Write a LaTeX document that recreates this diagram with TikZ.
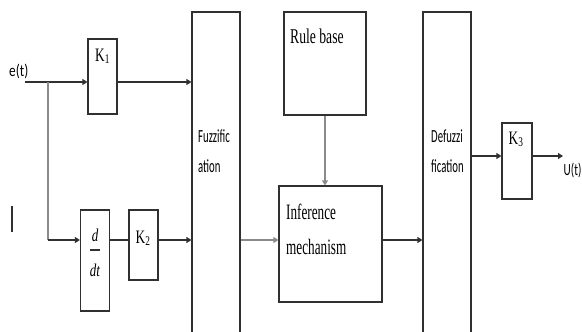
\documentclass[tikz,border=0pt]{standalone}
\usepackage{fontspec}
\setmainfont{Liberation Serif}
\newfontfamily\carfont{Carlito}
\usetikzlibrary{arrows.meta}
\definecolor{ln}{HTML}{303030}
\definecolor{lg}{HTML}{8A8A8A}
\tikzset{
  box/.style={draw=ln, line width=1.2pt, inner sep=0pt, fill=white},
  arr/.style={draw=ln, line width=1.2pt, -{Triangle[length=5pt,width=6pt]}},
  garr/.style={draw=lg, line width=1.2pt, -{Triangle[length=5pt,width=6pt]}},
  plain/.style={draw=ln, line width=1.2pt},
  gplain/.style={draw=lg, line width=1.2pt},
  txt/.style={inner sep=0pt, text=black},
}
\newcommand{\sx}[2]{\scalebox{#1}[1]{#2}}
\begin{document}
\begin{tikzpicture}[x=1pt,y=-1pt]
\useasboundingbox (0,0) rectangle (582,332);
% boxes
\node[box, minimum width=29pt, minimum height=75pt] (K1) at (102.5,76.5) {};
\node[box, minimum width=29pt, minimum height=101pt] (DD) at (95,260.5) {};
\node[box, minimum width=29pt, minimum height=70pt] (K2) at (143.5,245) {};
\node[box, minimum width=48pt, minimum height=330pt] (Fz) at (216,177) {};
\node[box, minimum width=82pt, minimum height=103pt] (RB) at (325,63.5) {};
\node[box, minimum width=103pt, minimum height=116pt] (Inf) at (330.5,244) {};
\node[box, minimum width=48pt, minimum height=330pt] (Dz) at (447,177) {};
\node[box, minimum width=30pt, minimum height=76pt] (K3) at (517,161) {};
% coordinates
\coordinate (ein) at (25,82);
\coordinate (br) at (48,82);
\coordinate (low) at (48,240);
\coordinate (uout) at (563,156);
% texts
\node[txt, anchor=base west, font=\carfont\fontsize{17}{20}\selectfont] (et) at (9,76) {\sx{0.78}{e(t)}};
\node[txt, anchor=base west, font=\carfont\fontsize{17}{20}\selectfont] (ut) at (563.5,175) {\sx{0.66}{U(t)}};
\node[txt, anchor=base, font=\fontsize{19}{22}\selectfont] (k1t) at (102.5,61) {\sx{0.7}{K\textsubscript{1}}};
\node[txt, anchor=base, font=\fontsize{19}{22}\selectfont] (k2t) at (143,243) {\sx{0.7}{K\textsubscript{2}}};
\node[txt, anchor=base, font=\fontsize{19}{22}\selectfont] (k3t) at (516,144) {\sx{0.7}{K\textsubscript{3}}};
\node[txt, anchor=base, font=\itshape\fontsize{18}{20}\selectfont] (dn) at (95,241) {\sx{0.72}{d}};
\node[txt, anchor=base, font=\itshape\fontsize{18}{20}\selectfont] (dd) at (95,276) {\sx{0.72}{dt}};
\draw[plain, line width=1.4pt] (90,250) -- (100,250);
\node[txt, anchor=base west, font=\fontsize{21}{24}\selectfont] (rbt) at (290,43) {\sx{0.65}{Rule base}};
\node[txt, anchor=base west, font=\fontsize{22}{25}\selectfont] (inf1) at (286,219) {\sx{0.6}{Inference}};
\node[txt, anchor=base west, font=\fontsize{22}{25}\selectfont] (inf2) at (286,254) {\sx{0.6}{mechanism}};
\node[txt, anchor=base west, font=\carfont\fontsize{18.5}{20}\selectfont] (fz1) at (198,142) {\sx{0.58}{Fuzzific}};
\node[txt, anchor=base west, font=\carfont\fontsize{18.5}{20}\selectfont] (fz2) at (198,172) {\sx{0.58}{ation}};
\node[txt, anchor=base west, font=\carfont\fontsize{18.5}{20}\selectfont] (dz1) at (431,142) {\sx{0.58}{Defuzzi}};
\node[txt, anchor=base west, font=\carfont\fontsize{18.5}{20}\selectfont] (dz2) at (431,172) {\sx{0.58}{fication}};
% stray bar
\draw[plain] (12,206) -- (12,232);
% connectors
\draw[arr] (ein) -- (ein -| K1.west);
\draw[arr] (ein -| K1.east) -- (ein -| Fz.west);
\draw[gplain] (br) -- (low);
\draw[arr] (low) -- (low -| DD.west);
\draw[plain] (low -| DD.east) -- (low -| K2.west);
\draw[arr] (low -| K2.east) -- (low -| Fz.west);
\draw[garr] (low -| Fz.east) -- (low -| Inf.west);
\draw[arr] (low -| Inf.east) -- (low -| Dz.west);
\draw[garr] (RB.south) -- (RB.south |- Inf.north);
\draw[arr] (uout -| Dz.east) -- (uout -| K3.west);
\draw[arr] (uout -| K3.east) -- (uout);
\end{tikzpicture}
\end{document}
